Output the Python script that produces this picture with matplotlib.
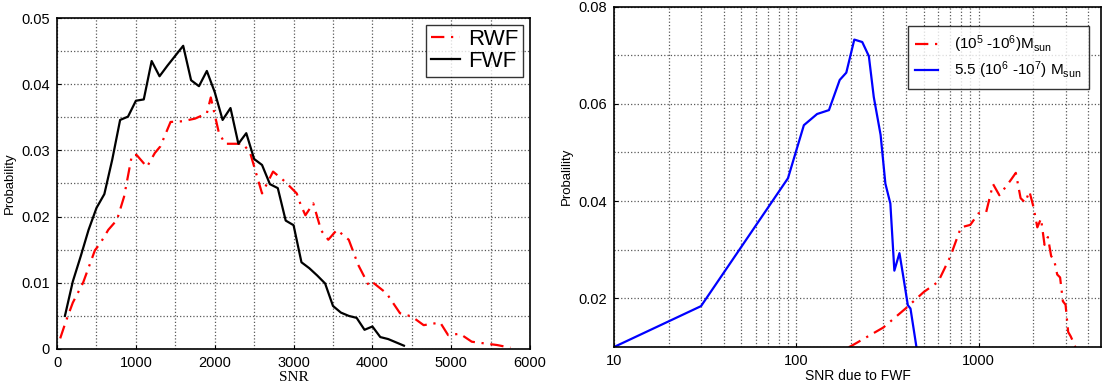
import numpy as np
import matplotlib
matplotlib.use("Agg")
import matplotlib.pyplot as plt
from matplotlib.ticker import MultipleLocator, LogLocator, NullFormatter, FixedLocator

plt.rcParams['font.family'] = ['Liberation Sans', 'DejaVu Sans']
plt.rcParams['mathtext.default'] = 'regular'

# FWF distribution (SNR bins of 100)
fwf_snr = [100, 200, 300, 400, 500, 600, 700, 800, 900, 1000, 1100, 1200, 1300, 1400,
           1500, 1600, 1700, 1800, 1900, 2000, 2100, 2200, 2300, 2400, 2500, 2600, 2700,
           2800, 2900, 3000, 3100, 3200, 3300, 3400, 3500, 3600, 3700, 3800, 3900, 4000,
           4100, 4200, 4300, 4400]
fwf_prob = [0.0050, 0.0102, 0.0140, 0.0180, 0.0213, 0.0234, 0.0286, 0.0346, 0.0351, 0.0375,
            0.0377, 0.0435, 0.0412, 0.0428, 0.0443, 0.0458, 0.0406, 0.0397, 0.0420, 0.0388,
            0.0346, 0.0364, 0.0310, 0.0326, 0.0287, 0.0278, 0.0249, 0.0243, 0.0194, 0.0187,
            0.0131, 0.0122, 0.0111, 0.0099, 0.0065, 0.0055, 0.0050, 0.0047, 0.0029, 0.0034,
            0.0018, 0.0015, 0.0010, 0.0005]

# RWF distribution
rwf_snr = [40, 110, 200, 330, 480, 550, 650, 760, 850, 950, 1010, 1140, 1240, 1310, 1440,
           1590, 1750, 1900, 1950, 2050, 2130, 2240, 2360, 2450, 2600, 2740, 2890, 3040,
           3090, 3150, 3250, 3350, 3440, 3550, 3700, 3820, 3950, 3990, 4180, 4350, 4500,
           4650, 4860, 4960, 5110, 5260, 5450, 5580, 5750]
rwf_prob = [0.0016, 0.0041, 0.0070, 0.0100, 0.0149, 0.0160, 0.0180, 0.0195, 0.0230, 0.0293,
            0.0293, 0.0275, 0.0296, 0.0306, 0.0343, 0.0344, 0.0348, 0.0356, 0.0380, 0.0328,
            0.0310, 0.0310, 0.0310, 0.0296, 0.0235, 0.0268, 0.0253, 0.0235, 0.0218, 0.0202,
            0.0220, 0.0179, 0.0165, 0.0180, 0.0165, 0.0127, 0.0097, 0.0102, 0.0084, 0.0054,
            0.0049, 0.0036, 0.0040, 0.0021, 0.0023, 0.0011, 0.0008, 0.0006, 0.0002]

# heavy-mass population, SNR due to FWF
heavy_snr = [10, 30, 90, 110, 130, 151, 173, 188, 208, 230, 250, 266, 290, 308, 328, 345,
             368, 385, 409, 423, 456]
heavy_prob = [0.0100, 0.0184, 0.0447, 0.0556, 0.0579, 0.0587, 0.0649, 0.0664, 0.0732, 0.0727,
              0.0698, 0.0614, 0.0536, 0.0436, 0.0395, 0.0257, 0.0293, 0.0248, 0.0186, 0.0179,
              0.0100]

left_yticks = [0, 0.01, 0.02, 0.03, 0.04, 0.05]
left_ylabels = ['0', '0.01', '0.02', '0.03', '0.04', '0.05']
right_yticks = [0.02, 0.04, 0.06, 0.08]
right_ylabels = ['0.02', '0.04', '0.06', '0.08']

red_ls = (0, (6, 3, 1, 3))
grid_kw = dict(color='0.35', linestyle=':', linewidth=0.9)

fig = plt.figure(figsize=(11.12, 3.83), dpi=100)

# ---- left panel
ax1 = fig.add_axes([0.0513, 0.0888, 0.4254, 0.8642])
ax1.plot(rwf_snr, rwf_prob, color='red', linestyle=red_ls, linewidth=1.6, label='RWF')
ax1.plot(fwf_snr, fwf_prob, color='black', linewidth=1.6, label='FWF')
ax1.set_xlim(0, 6000)
ax1.set_ylim(0, 0.05)
ax1.xaxis.set_major_locator(MultipleLocator(1000))
ax1.xaxis.set_minor_locator(MultipleLocator(500))
ax1.set_yticks(left_yticks)
ax1.set_yticklabels(left_ylabels)
ax1.yaxis.set_minor_locator(FixedLocator([0.005, 0.015, 0.025, 0.035, 0.045]))
ax1.grid(True, which='both', **grid_kw)
ax1.set_xlabel('SNR', fontfamily='Liberation Serif', fontsize=11, labelpad=1)
ax1.set_ylabel('Probability', fontsize=9.5, labelpad=4)
leg1 = ax1.legend(loc='upper right', fontsize=16, handlelength=1.3, handletextpad=0.4,
                  borderpad=0.2, labelspacing=0.05, fancybox=False, edgecolor='black',
                  borderaxespad=0.3)
leg1.get_frame().set_linewidth(1.0)

# ---- right panel
ax2 = fig.add_axes([0.5522, 0.094, 0.438, 0.889])
ax2.plot(fwf_snr, fwf_prob, color='red', linestyle=red_ls, linewidth=1.6,
         label='(10$^5$ -10$^6$)M$_{sun}$')
ax2.plot(heavy_snr, heavy_prob, color='blue', linewidth=1.6,
         label='5.5 (10$^6$ -10$^7$) M$_{sun}$')
ax2.set_xscale('log')
ax2.set_xlim(10, 4700)
ax2.set_ylim(0.01, 0.08)
ax2.xaxis.set_major_locator(FixedLocator([10, 100, 1000]))
ax2.xaxis.set_minor_locator(LogLocator(base=10, subs=np.arange(2, 10)))
ax2.xaxis.set_minor_formatter(NullFormatter())
ax2.set_xticklabels(['10', '100', '1000'])
ax2.set_yticks(right_yticks)
ax2.set_yticklabels(right_ylabels)
ax2.yaxis.set_minor_locator(FixedLocator([0.01, 0.03, 0.05, 0.07]))
ax2.grid(True, which='both', **grid_kw)
ax2.set_xlabel('SNR due to FWF', fontsize=10, labelpad=1)
ax2.set_ylabel('Probalility', fontsize=9.5, labelpad=4)
leg2 = ax2.legend(loc='upper right', fontsize=11, handlelength=1.5, handletextpad=1.0,
                  borderpad=0.5, labelspacing=0.3, fancybox=False, edgecolor='black',
                  bbox_to_anchor=(0.99, 0.965))
leg2.get_frame().set_linewidth(1.0)

for ax in (ax1, ax2):
    for s in ax.spines.values():
        s.set_linewidth(1.2)
    ax.tick_params(which='both', direction='in', labelsize=10.5, length=3, pad=5)
    ax.tick_params(which='minor', length=0)

fig.savefig('out.png', dpi=100)
